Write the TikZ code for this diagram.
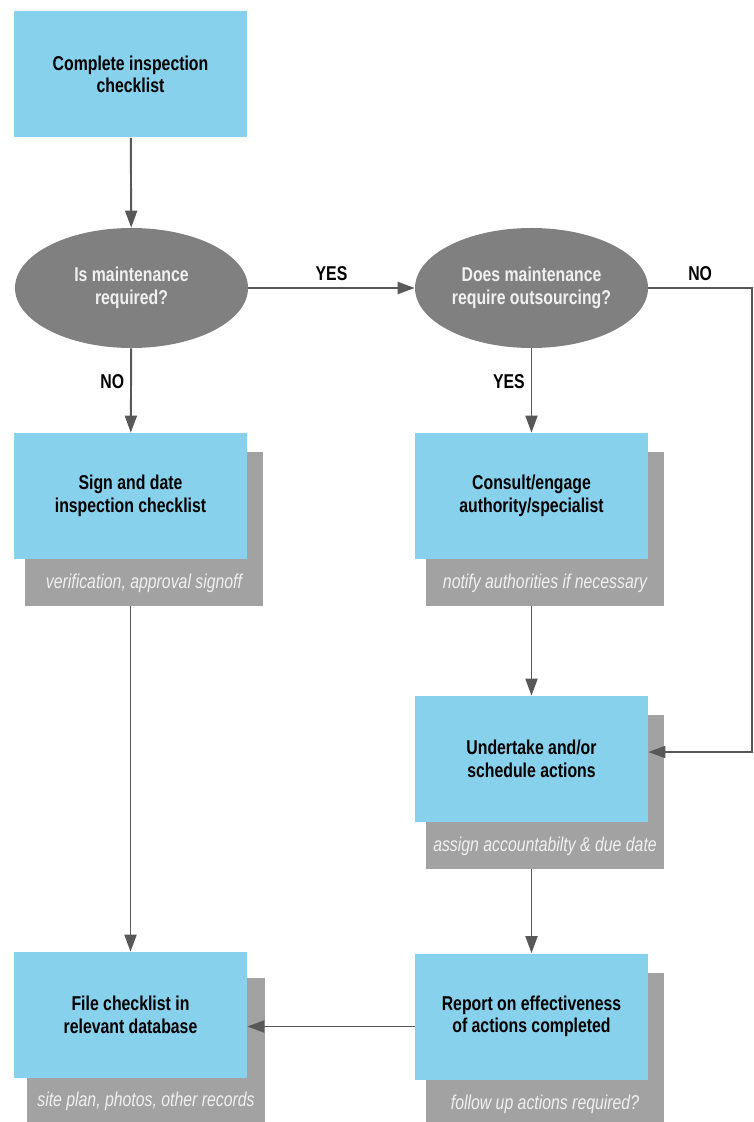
\documentclass[tikz,border=0pt]{standalone}
\usepackage{fontspec}
\setmainfont{Liberation Sans}[FakeStretch=0.79]
\usepackage{xcolor}
\usepackage{tikz}
\usetikzlibrary{positioning,arrows.meta,shapes.geometric}

\definecolor{stepblue}{RGB}{135,209,236}
\definecolor{askgray}{RGB}{128,128,128}
\definecolor{shadegray}{RGB}{162,162,162}
\definecolor{linegray}{RGB}{88,88,88}
\definecolor{paletext}{RGB}{240,240,240}

\begin{document}
\begin{tikzpicture}[
  stepbox/.style={fill=stepblue, minimum width=4.66cm, minimum height=2.52cm, inner sep=0pt,
    align=center, font=\bfseries\fontsize{11.4}{12.8}\selectfont},
  shadebox/.style={fill=shadegray, minimum width=4.76cm, minimum height=3.08cm, inner sep=0pt},
  askbox/.style={ellipse, fill=askgray, minimum width=4.66cm, minimum height=2.4cm, inner sep=0pt,
    align=center, text=paletext, font=\bfseries\fontsize{11.4}{12.8}\selectfont},
  notetext/.style={text=paletext, font=\itshape\fontsize{11.4}{12.8}\selectfont},
  flow/.style={draw=linegray, line width=1.1pt, -{Triangle[length=0.34cm, width=0.24cm]}},
  lbl/.style={text=black, font=\bfseries\fontsize{11.4}{12.8}\selectfont}
]
\useasboundingbox (0,0) rectangle (15.06,-22.44);

% shadows
\node[shadebox] (sign_sh) at (2.88,-10.58) {};
\node[shadebox] (consult_sh) at (10.90,-10.58) {};
\node[shadebox] (undertake_sh) at (10.90,-15.84) {};
\node[shadebox] (file_sh) at (2.92,-21.1) {};
\node[shadebox] (report_sh) at (10.90,-20.99) {};

% steps and questions
\node[stepbox] (check) at (2.61,-1.49) {Complete inspection\\checklist};
\node[askbox] (maint) at (2.63,-5.76) {Is maintenance\\required?};
\node[askbox] (outsrc) at (10.63,-5.76) {Does maintenance\\require outsourcing?};
\node[stepbox] (sign) at (2.61,-9.92) {Sign and date\\inspection checklist};
\node[stepbox] (consult) at (10.63,-9.92) {Consult/engage\\authority/specialist};
\node[stepbox] (undertake) at (10.63,-15.18) {Undertake and/or\\schedule actions};
\node[stepbox] (file) at (2.61,-20.30) {File checklist in\\relevant database};
\node[stepbox] (report) at (10.63,-20.33) {Report on effectiveness\\of actions completed};

% notes
\node[notetext] (sign_note) at ([yshift=0.46cm]sign_sh.south) {verification, approval signoff};
\node[notetext] (consult_note) at ([yshift=0.46cm]consult_sh.south) {notify authorities if necessary};
\node[notetext] (undertake_note) at ([yshift=0.46cm]undertake_sh.south) {assign accountabilty \& due date};
\node[notetext] (file_note) at ([yshift=0.62cm]file_sh.south) {site plan, photos, other records};
\node[notetext] (report_note) at ([yshift=0.46cm]report_sh.south) {follow up actions required?};

\coordinate (no_turn) at (15.04,-5.76);

% arrows
\draw[flow] (check) -- (maint);
\draw[flow] (maint) -- (outsrc) node[midway, above, lbl] {YES};
\draw[flow] (maint) -- (sign) node[pos=0.4, left, lbl] {NO};
\draw[flow] (outsrc) -- (consult) node[pos=0.4, left, lbl] {YES};
\draw[flow] (outsrc.east) -- (no_turn) node[midway, above, lbl] {NO}
    |- ([yshift=0.14cm]undertake.east);
\draw[flow] (consult |- consult_sh.south) -- (undertake);
\draw[flow] (sign |- sign_sh.south) -- (file);
\draw[flow] (undertake |- undertake_sh.south) -- (report);
\draw[flow] ([yshift=-0.2cm]report.west) -- ([yshift=-0.2cm]report.west -| file.east);

\end{tikzpicture}
\end{document}
